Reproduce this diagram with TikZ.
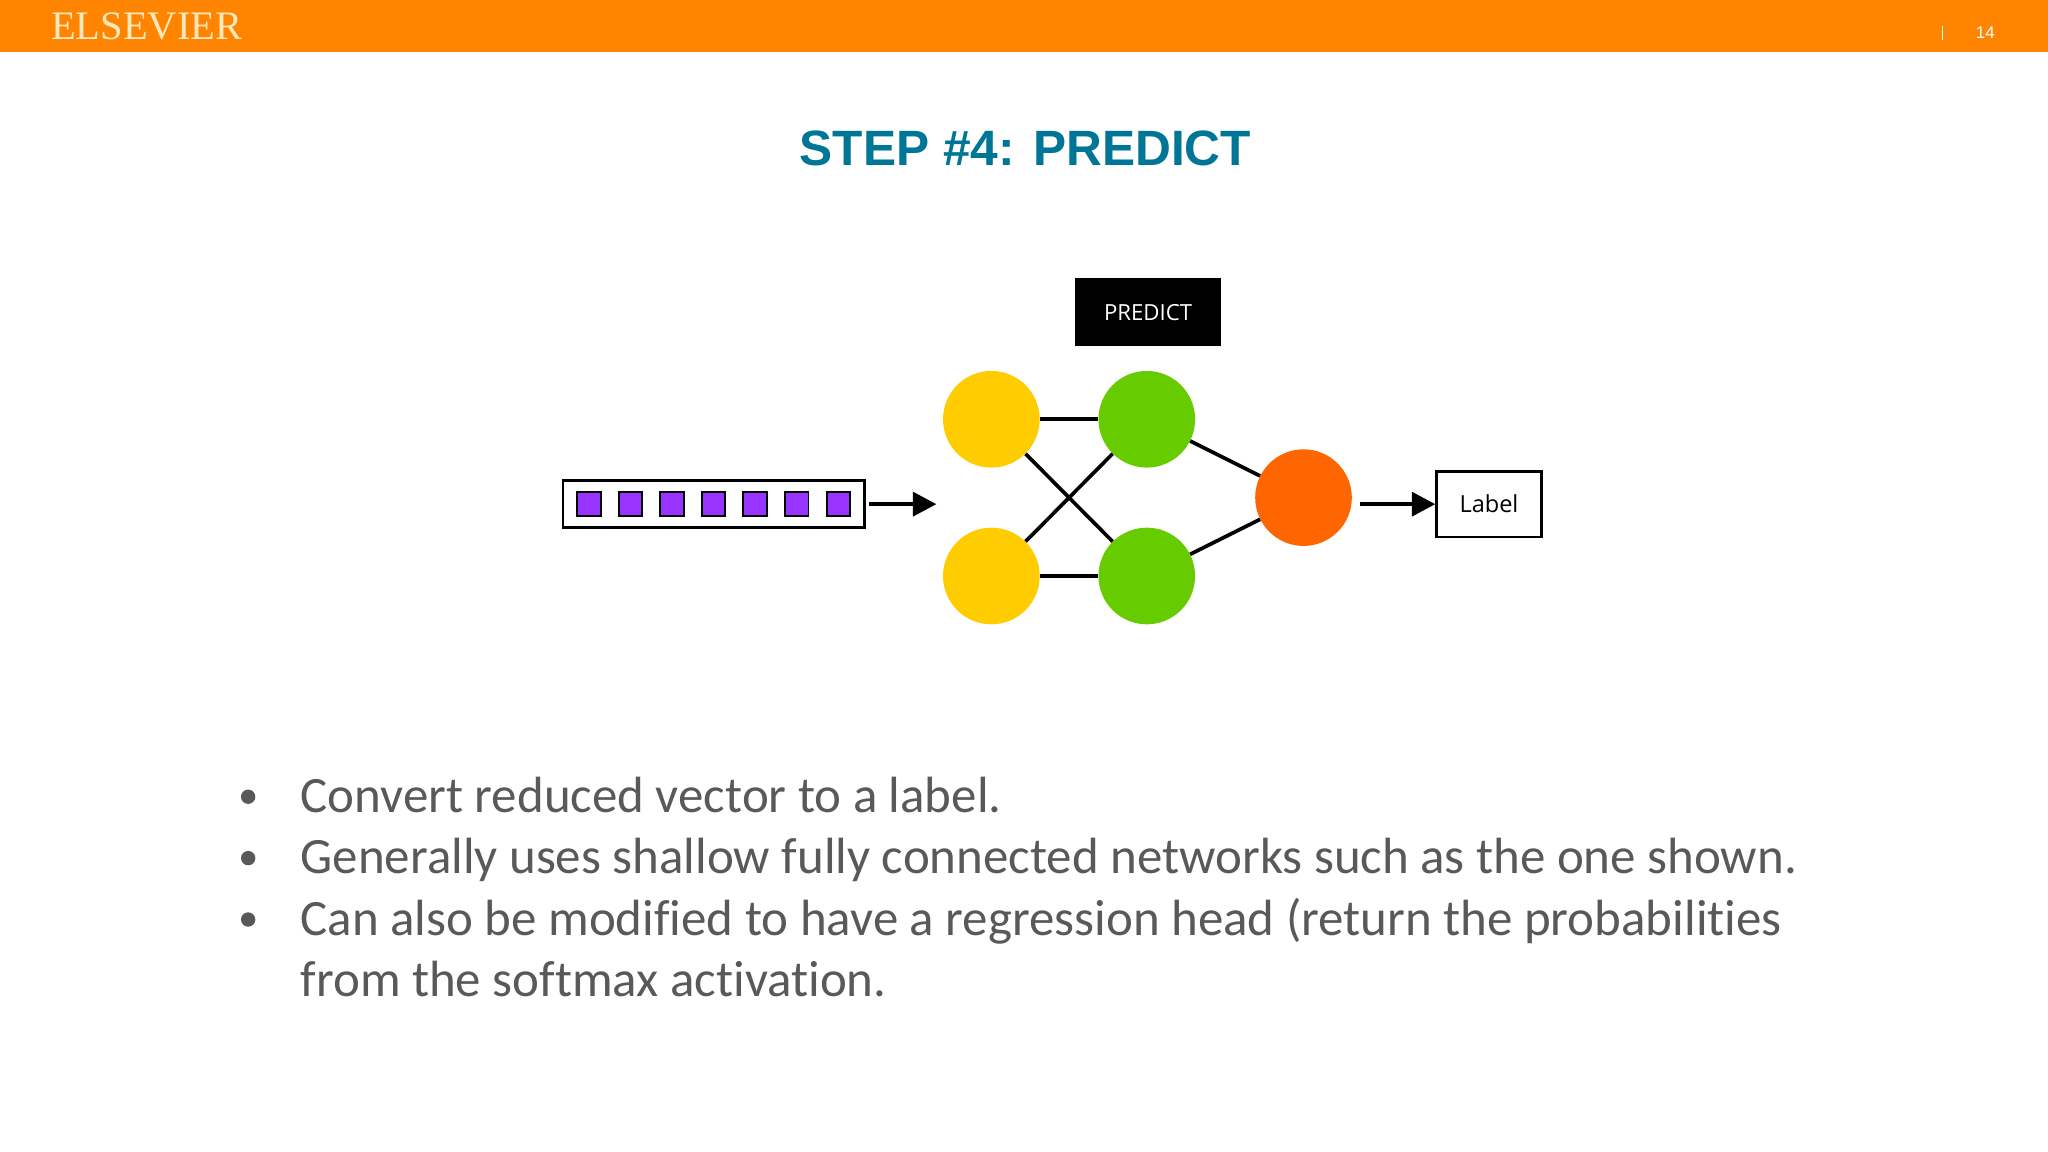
\documentclass[tikz,border=0pt]{standalone}
\usepackage{fontspec}
\setmainfont{Liberation Sans}
\newfontfamily\carl[Ligatures=NoCommon]{Carlito}
\newfontfamily\serifel{Liberation Serif}
\newfontfamily\ubu{Open Sans}
\usetikzlibrary{arrows.meta}
\definecolor{orng}{RGB}{255,132,0}
\definecolor{cream}{RGB}{255,232,190}
\definecolor{ttl}{RGB}{0,118,150}
\definecolor{yel}{RGB}{255,204,0}
\definecolor{grn}{RGB}{102,204,0}
\definecolor{red2}{RGB}{255,102,0}
\definecolor{purp}{RGB}{153,51,255}
\definecolor{txt}{RGB}{89,89,89}
\tikzset{neuron/.style={circle,minimum size=74pt,inner sep=0pt},
 edge/.style={line width=2.8pt},
 arr/.style={line width=3.5pt,-{Triangle[length=18pt,width=18pt]}},
 sq/.style={draw=black,fill=purp,line width=1.5pt,minimum size=18pt,inner sep=0pt},
 bul/.style={anchor=base west,font=\carl\fontsize{39}{44}\selectfont,text=txt,inner sep=0pt}}
\begin{document}
\begin{tikzpicture}[x=1pt,y=-1pt]
\useasboundingbox (0,0) rectangle (1568,882);
\fill[white] (0,0) rectangle (1568,882);
\fill[orng] (0,0) rectangle (1568,40);
\node[anchor=west,text=cream,font=\serifel\fontsize{31}{31}\selectfont,inner sep=0pt] (els) at (39,20) {ELSEVIER};
\node[text=white,font=\fontsize{13}{13}\selectfont] (pg) at (1520,25) {14};
\draw[white,line width=0.8pt] (1487,20) -- (1487,31);
\node[text=ttl,font=\bfseries\fontsize{38}{38}\selectfont] (title) at (785,114) {STEP \#4: PREDICT};
\node[fill=black,text=white,minimum width=112pt,minimum height=52pt,font=\ubu\fontsize{17}{17}\selectfont] (pr) at (879,239) {PREDICT};
\node[neuron,fill=yel] (y1) at (759,321) {};
\node[neuron,fill=yel] (y2) at (759,441) {};
\node[neuron,fill=grn] (g1) at (878,321) {};
\node[neuron,fill=grn] (g2) at (878,441) {};
\node[neuron,fill=red2] (o) at (998,381) {};
\draw[edge] (y1) -- (g1); \draw[edge] (y2) -- (g2);
\draw[edge] (y1) -- (g2); \draw[edge] (y2) -- (g1);
\draw[edge] (g1) -- (o); \draw[edge] (g2) -- (o);
\node[draw=black,line width=2pt,minimum width=231pt,minimum height=36pt,inner sep=0pt] (vec) at (546.5,386) {};
\foreach \i in {0,...,6}{\node[sq] (s\i) at (451+31.8*\i,386) {};}
\coordinate (ain) at (717,386);
\draw[arr] (vec.east) ++(2,0) coordinate (a0) -- (ain);
\node[draw=black,line width=2pt,minimum width=80pt,minimum height=50pt,font=\ubu\fontsize{18}{18}\selectfont] (lab) at (1140,386) {Label};
\draw[arr] (1041,386) coordinate (b0) -- (lab.west);
\foreach \yy/\t in {610/Convert reduced vector to a label.,657/Generally uses shallow fully connected networks such as the one shown.,704/Can also be modified to have a regression head (return the probabilities}
 {\node[bul] at (230,\yy+12) {\t};\fill[txt] (190,\yy) circle (5.5pt);}
\node[bul] (last) at (230,763) {from the softmax activation.};
\end{tikzpicture}
\end{document}
